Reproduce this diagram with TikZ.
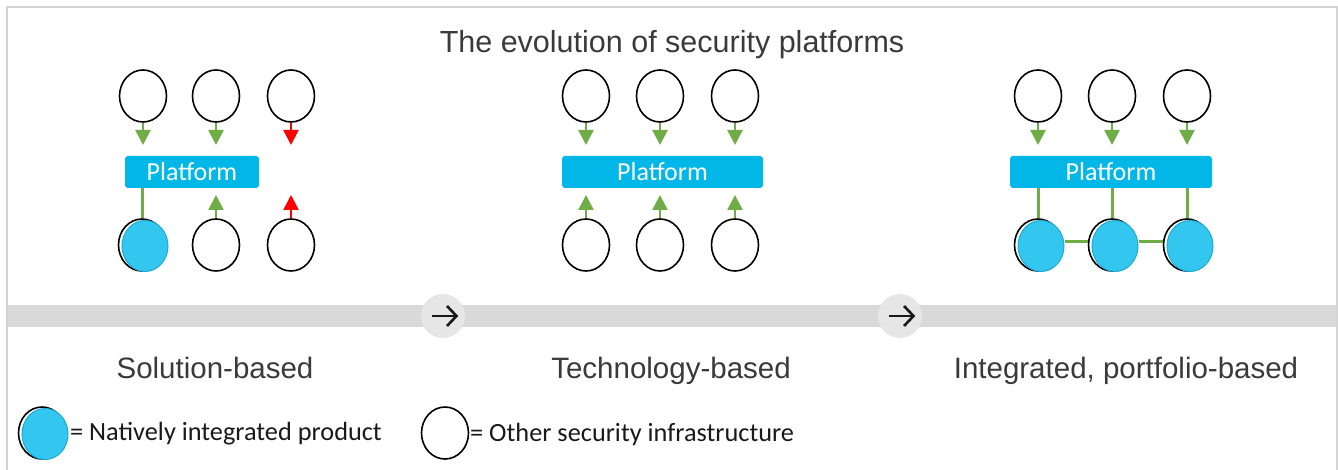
\documentclass[tikz,border=0pt]{standalone}
\usepackage{fontspec}
\setmainfont{Liberation Sans}
\newfontfamily\calib{Carlito}
\usetikzlibrary{shapes.geometric,arrows.meta,calc}
\definecolor{plat}{HTML}{00B7E8}
\definecolor{natfill}{HTML}{33C7F0}
\definecolor{natedge}{HTML}{1EA9D6}
\definecolor{grn}{HTML}{70AD47}
\definecolor{txt}{HTML}{3A3A3A}
\definecolor{barc}{HTML}{D9D9D9}
\definecolor{framec}{HTML}{D4D4D4}
\definecolor{arrc}{HTML}{E6E6E6}
\tikzset{
 infra/.style={ellipse, draw=black, line width=1.6pt, minimum width=47pt, minimum height=52pt, inner sep=0pt, fill=white},
 natblue/.style={ellipse, draw=natedge, line width=1pt, fill=natfill, minimum width=46pt, minimum height=51pt, inner sep=0pt},
 platbox/.style={rounded corners=3pt, fill=plat, text=white, font=\calib\fontsize{26}{30}\selectfont, inner sep=0pt, minimum height=32pt},
 flow/.style={line width=2.5pt, -{Triangle[width=15pt,length=15pt]}},
 link/.style={line width=3pt, grn},
 caption/.style={text=txt, font=\fontsize{29.5}{34}\selectfont, anchor=base},
 legtext/.style={font=\calib\fontsize{26.3}{30}\selectfont, anchor=west, text=black!90, inner sep=0pt},
 stepcirc/.style={circle, fill=arrc, minimum size=44pt, inner sep=0pt},
 glyph/.style={line width=2.6pt, black!90},
}
\begin{document}
\begin{tikzpicture}[x=1pt,y=-1pt]
\useasboundingbox (0,0) rectangle (1338,470);
% bar and frame
\fill[barc] (8,305) rectangle (1338,327);
\draw[framec, line width=2pt] (7,480) -- (7,7) -- (1337,7) -- (1337,480);
% title
\node[caption, font=\fontsize{30.5}{34}\selectfont] (title) at (672,53) {The evolution of security platforms};
% step circles
\node[stepcirc] (s1) at (443,316) {};
\node[stepcirc] (s2) at (900,316) {};
\foreach \s in {s1,s2}{
  \draw[glyph] ($(\s)+(-11,0)$) -- ($(\s)+(13,0)$);
  \draw[glyph] ($(\s)+(4,-10)$) -- ($(\s)+(13.5,0)$) -- ($(\s)+(4,10)$);
}
% ---------- column 1 ----------
\node[platbox, minimum width=134pt] (p1) at (192,172) {Platform};
\node[infra] (a1) at (143,96) {};
\node[infra] (a2) at (216,96) {};
\node[infra] (a3) at (291,96) {};
\node[infra] (b1) at (142,245) {};
\node[natblue] (b1f) at ($(b1)+(3,1)$) {};
\node[infra] (b2) at (216,245) {};
\node[infra] (b3) at (291,245) {};
\coordinate (a1t) at (143,145);
\coordinate (a2t) at (216,145);
\coordinate (a3t) at (291,145);
\coordinate (b2t) at (216,195);
\coordinate (b3t) at (291,195);
\draw[flow, grn] (a1.south) -- (a1t);
\draw[flow, grn] (a2.south) -- (a2t);
\draw[flow, red] (a3.south) -- (a3t);
\draw[flow, grn] (b2.north) -- (b2t);
\draw[flow, red] (b3.north) -- (b3t);
\draw[link] (p1.south -| b1) -- (b1.north);
% ---------- column 2 ----------
\node[platbox, minimum width=201pt] (p2) at (662.5,172) {Platform};
\node[infra] (c1) at (586,96) {};
\node[infra] (c2) at (660,96) {};
\node[infra] (c3) at (735,96) {};
\node[infra] (d1) at (586,245) {};
\node[infra] (d2) at (660,245) {};
\node[infra] (d3) at (735,245) {};
\coordinate (c1t) at (586,145);
\coordinate (c2t) at (660,145);
\coordinate (c3t) at (735,145);
\coordinate (d1t) at (586,195);
\coordinate (d2t) at (660,195);
\coordinate (d3t) at (735,195);
\draw[flow, grn] (c1.south) -- (c1t);
\draw[flow, grn] (c2.south) -- (c2t);
\draw[flow, grn] (c3.south) -- (c3t);
\draw[flow, grn] (d1.north) -- (d1t);
\draw[flow, grn] (d2.north) -- (d2t);
\draw[flow, grn] (d3.north) -- (d3t);
% ---------- column 3 ----------
\node[platbox, minimum width=202pt] (p3) at (1111,172) {Platform};
\node[infra] (e1) at (1038,96) {};
\node[infra] (e2) at (1112,96) {};
\node[infra] (e3) at (1187,96) {};
\coordinate (e1t) at (1038,145);
\coordinate (e2t) at (1112,145);
\coordinate (e3t) at (1187,145);
\draw[flow, grn] (e1.south) -- (e1t);
\draw[flow, grn] (e2.south) -- (e2t);
\draw[flow, grn] (e3.south) -- (e3t);
\node[infra] (f1) at (1038,245) {};
\node[infra] (f2) at (1112,245) {};
\node[infra] (f3) at (1187,245) {};
\draw[link] (p3.south -| f1) -- (f1.north);
\draw[link] (p3.south -| f2) -- (f2.north);
\draw[link] (p3.south -| f3) -- (f3.north);
\node[natblue] (f1f) at ($(f1)+(3,1)$) {};
\node[natblue] (f2f) at ($(f2)+(3,1)$) {};
\node[natblue] (f3f) at ($(f3)+(3,1)$) {};
\coordinate (h1) at ($(f1f.east)+(0,-4)$);
\coordinate (h2) at ($(f2f.east)+(0,-4)$);
\draw[link] (h1) -- (h1 -| f2.west);
\draw[link] (h2) -- (h2 -| f3.west);
% captions
\node[caption] (l1) at (215,378) {Solution-based};
\node[caption] (l2) at (671,378) {Technology-based};
\node[caption] (l3) at (1126,378) {Integrated, portfolio-based};
% legend
\node[infra] (g1) at (42,433) {};
\node[natblue] (g1f) at ($(g1)+(3,1)$) {};
\node[legtext] (g1t) at (70,434) {= Natively integrated product};
\node[infra] (g2) at (445,433) {};
\node[legtext] (g2t) at (470,434) {= Other security infrastructure};
\end{tikzpicture}
\end{document}
